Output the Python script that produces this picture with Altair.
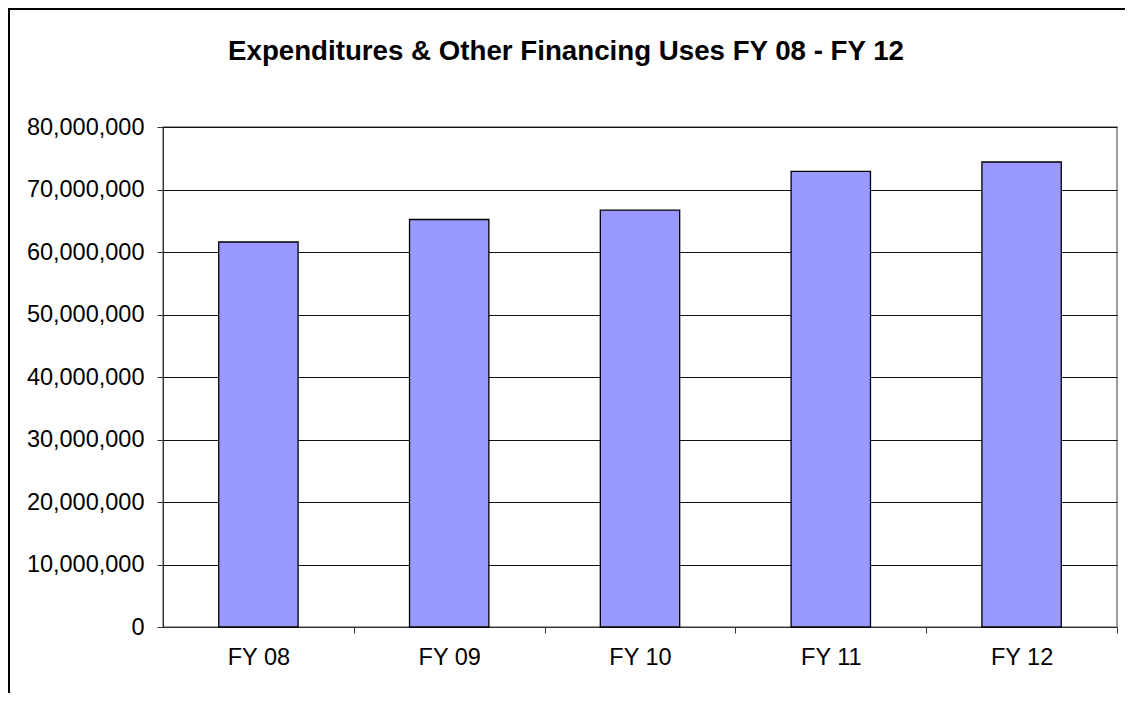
import altair as alt
import pandas as pd

categories = ["FY 08", "FY 09", "FY 10", "FY 11", "FY 12"]
values = [61600000, 65200000, 66700000, 72900000, 74400000]
y_ticks = [0, 10000000, 20000000, 30000000, 40000000, 50000000, 60000000, 70000000, 80000000]
title_text = "Expenditures & Other Financing Uses FY 08 - FY 12"

df = pd.DataFrame({"year": categories, "amount": values})

FONT = "Liberation Sans"
PAD_INNER = 0.584
STEP = 954 / 5
HALF_GAP = PAD_INNER * STEP / 2

bars = alt.Chart(df).mark_bar(color="#9999FF", stroke="#000000", strokeWidth=1.3).encode(
    x=alt.X(
        "year:N",
        sort=categories,
        scale=alt.Scale(paddingInner=PAD_INNER, paddingOuter=PAD_INNER / 2),
        axis=alt.Axis(
            title=None, labelAngle=0, labelFontSize=23.5, labelFont=FONT, labelColor="#000000",
            bandPosition=1, tickOffset=HALF_GAP, labelOffset=-HALF_GAP,
            tickSize=6, tickColor="#333333", domainColor="#333333",
            labelPadding=12, grid=False,
        ),
    ),
    y=alt.Y(
        "amount:Q",
        scale=alt.Scale(domain=[0, 80000000], nice=False),
        axis=alt.Axis(
            title=None, values=y_ticks, format=",d", labelFontSize=23.5, labelFont=FONT,
            labelColor="#000000", tickSize=6, tickColor="#333333", domainColor="#333333",
            labelPadding=13, grid=True, gridColor="#111111", gridOpacity=1, gridWidth=1,
        ),
    ),
)

title = alt.Chart(alt.Data(values=[{}])).mark_text(
    text=title_text, font=FONT, fontSize=27.7, fontWeight="bold", color="#000000",
    align="center", baseline="alphabetic",
).encode(x=alt.value(403), y=alt.value(-67))

frame = alt.Chart(alt.Data(values=[{}])).mark_rect(
    filled=False, stroke="#000000", strokeWidth=2
).encode(
    x=alt.value(-154), y=alt.value(-118), x2=alt.value(1200), y2=alt.value(800)
)

chart = alt.layer(bars, title, frame).properties(
    width=954,
    height=500,
    autosize=alt.AutoSizeParams(type="none"),
    padding={"left": 155, "top": 119, "right": 8, "bottom": 66},
).configure_view(stroke="#808080", strokeWidth=1.5)

chart.save("out.html", embed_options={"renderer": "svg", "actions": False})
